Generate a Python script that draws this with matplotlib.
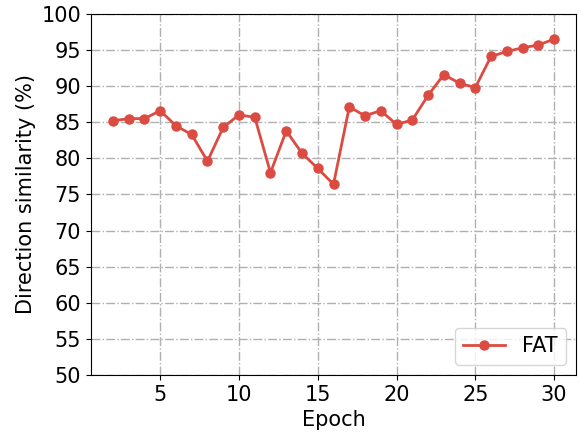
import matplotlib
matplotlib.use("Agg")
import matplotlib.pyplot as plt

epochs = list(range(2, 31))
fat = [85.2, 85.5, 85.5, 86.6, 84.5, 83.3, 79.6, 84.3, 86.0, 85.7,
       78.0, 83.8, 80.7, 78.6, 76.4, 87.1, 85.9, 86.6, 84.7, 85.3,
       88.7, 91.6, 90.4, 89.8, 94.1, 94.8, 95.3, 95.7, 96.5]
yticks = list(range(50, 101, 5))

fig = plt.figure(figsize=(5.79, 4.34), dpi=100)
ax = fig.add_axes([0.157, 0.136, 0.838, 0.832])
ax.plot(epochs, fat, color='#DC4B42', marker='o', markersize=6.5, linewidth=2, label='FAT')
ax.set_ylim(50, 100)
ax.set_yticks(yticks)
ax.set_xticks([5, 10, 15, 20, 25, 30])
ax.grid(True, linestyle='-.', color='#b0b0b0', linewidth=1)
ax.set_axisbelow(True)
ax.tick_params(labelsize=15)
ax.set_xlabel('Epoch', fontsize=15)
ax.set_ylabel('Direction similarity (%)', fontsize=15)
ax.legend(loc='lower right', fontsize=15)
fig.savefig('out.png', dpi=100)
